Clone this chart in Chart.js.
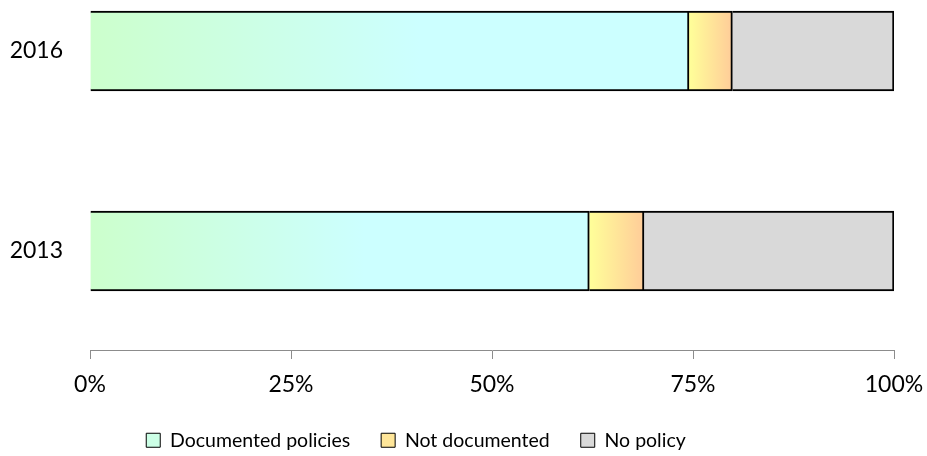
<!DOCTYPE html>
<html>
<head>
<meta charset="utf-8">
<script src="https://cdn.jsdelivr.net/npm/chart.js@4/dist/chart.umd.min.js"></script>
<style>
  html, body { margin: 0; padding: 0; background: #fff; }
  #wrap { width: 927px; height: 456px; }
</style>
</head>
<body>
<div id="wrap"><canvas id="myChart"></canvas></div>
<script>
// data
const years = ["2016", "2013"];
const documented = [74.5, 62.1];
const notDocumented = [5.4, 6.8];
const noPolicy = [20.1, 31.1];
const xTicks = [0, 25, 50, 75, 100];

const FONT = "Lato, 'Open Sans', sans-serif";
const seriesValues = [documented, notDocumented, noPolicy];

// horizontal gradient spanning one bar segment
function segGradient(stops, fallback) {
  return function (context) {
    const chart = context.chart;
    const xs = chart.scales.x;
    if (!chart.chartArea || !xs || context.dataIndex === undefined) return fallback;
    const di = context.datasetIndex, i = context.dataIndex;
    let start = 0;
    for (let k = 0; k < di; k++) start += seriesValues[k][i];
    const end = start + seriesValues[di][i];
    const x0 = xs.getPixelForValue(start), x1 = xs.getPixelForValue(end);
    if (!isFinite(x0) || !isFinite(x1) || x1 - x0 < 1) return fallback;
    const g = chart.ctx.createLinearGradient(x0, 0, x1, 0);
    stops.forEach(function (s) { g.addColorStop(s[0], s[1]); });
    return g;
  };
}

function points(values) {
  return values.map(function (v, i) { return { x: v, y: i }; });
}

// legend sits a bit left of centre and slightly lower, like the original
const legendShift = {
  id: "legendShift",
  afterLayout: function (c) {
    c.legend.left -= 31;
    c.legend.right -= 31;
    c.legend.top += 4;
    c.legend.bottom += 4;
  },
};

var ctx = document.getElementById("myChart").getContext("2d");
var chart = new Chart(ctx, {
  type: "bar",
  data: {
    datasets: [
      {
        label: "Documented policies",
        data: points(documented),
        backgroundColor: segGradient([[0, "#ccffcc"], [0.55, "#ccffff"], [1, "#ccffff"]], "#ccffe6"),
        legendColor: "#ccffe6",
        borderColor: "#000",
        borderWidth: 2,
      },
      {
        label: "Not documented",
        data: points(notDocumented),
        backgroundColor: segGradient([[0, "#ffff99"], [1, "#ffcc99"]], "#ffe699"),
        legendColor: "#ffe699",
        borderColor: "#000",
        borderWidth: 2,
      },
      {
        label: "No policy",
        data: points(noPolicy),
        backgroundColor: "#d9d9d9",
        legendColor: "#d9d9d9",
        borderColor: "#000",
        borderWidth: 2,
      },
    ],
  },
  options: {
    indexAxis: "y",
    responsive: true,
    maintainAspectRatio: false,
    animation: false,
    barThickness: 80,
    layout: { padding: { top: 0, right: 33, bottom: 0, left: 0 } },
    scales: {
      x: {
        type: "linear",
        stacked: true,
        min: 0,
        max: 100,
        afterBuildTicks: function (scale) {
          scale.ticks = xTicks.map(function (v) { return { value: v }; });
        },
        ticks: {
          color: "#000",
          font: { family: FONT, size: 23 },
          padding: 12,
          callback: function (v) { return v + "%"; },
        },
        grid: { drawOnChartArea: false, drawTicks: true, tickLength: 9, color: "#8c8c8c" },
        border: { display: true, color: "#8c8c8c", width: 1 },
        afterFit: function (scale) {
          scale.height = 45.5;
          scale.paddingRight = 0;
          scale.paddingLeft = 0;
        },
      },
      y: {
        type: "linear",
        stacked: true,
        reverse: true,
        offset: false,
        min: -0.255,
        max: 1.495,
        afterBuildTicks: function (scale) {
          scale.ticks = years.map(function (y, i) { return { value: i }; });
        },
        ticks: {
          color: "#000",
          font: { family: FONT, size: 23 },
          padding: 19,
          callback: function (v) { return years[v]; },
        },
        grid: { display: false },
        border: { display: false },
        afterFit: function (scale) {
          scale.width = 90;
          scale.paddingTop = 0;
          scale.paddingBottom = 0;
        },
      },
    },
    plugins: {
      legend: {
        position: "bottom",
        labels: {
          color: "#000",
          font: { family: FONT, size: 19.5 },
          boxWidth: 14,
          boxHeight: 14,
          padding: 31,
          generateLabels: function (c) {
            return c.data.datasets.map(function (ds, i) {
              return {
                text: ds.label,
                fillStyle: ds.legendColor,
                strokeStyle: "#000",
                lineWidth: 1,
                datasetIndex: i,
                fontColor: "#000",
              };
            });
          },
        },
      },
      tooltip: { enabled: false },
    },
  },
  plugins: [legendShift],
});
</script>
</body>
</html>
